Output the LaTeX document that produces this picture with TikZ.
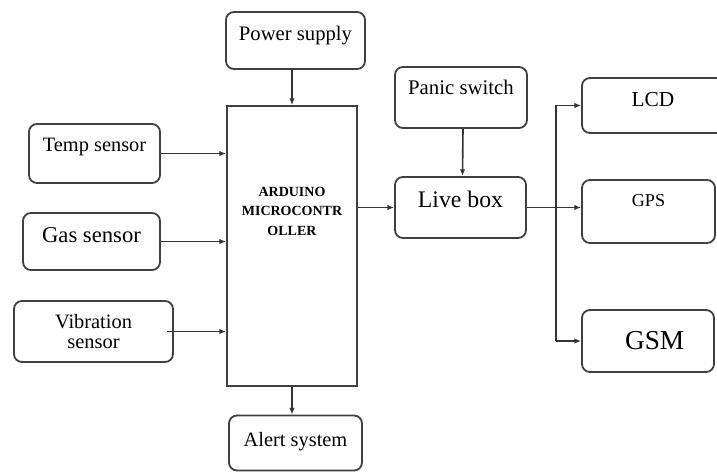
\documentclass[tikz,border=0pt]{standalone}
\usepackage{fontspec}
\setmainfont{Liberation Serif}
\usetikzlibrary{arrows.meta}

\begin{document}
\begin{tikzpicture}[x=0.75pt,y=-0.75pt]
\tikzset{blk/.style 2 args=
            {draw=black!75,line width=1.35pt,rounded corners=6pt,inner sep=0pt,
             minimum width=#1*0.75pt,minimum height=#2*0.75pt,align=center},
         arr/.style=
            {draw=black!80,line width=1.2pt,-{Latex[length=5pt,width=4pt]}},
         up/.style={text depth=#1}}
\clip (0,0) rectangle (717,473);
% inputs and the controller
\node[blk={139}{57},up=10.8pt,font=\fontsize{15.5}{18}\selectfont] (power) at (295.5,40.5) {Power supply};
\node[blk={130}{280},rounded corners=0pt,up=52pt,
      font=\fontsize{10.5}{14.6}\selectfont\bfseries] (ard) at (292,246) {ARDUINO\\MICROCONTR\\OLLER};
\node[blk={131}{59},up=13pt,font=\fontsize{15.3}{18}\selectfont] (temp) at (94.5,153.5) {Temp sensor};
\node[blk={137}{57},up=10pt,font=\fontsize{17}{20}\selectfont] (gas) at (91.5,241.5) {Gas sensor};
\node[blk={159}{61},font=\fontsize{15.3}{15}\selectfont] (vib) at (93.5,331.5) {Vibration\\sensor};
\node[blk={133}{55},up=5pt,font=\fontsize{15.3}{18}\selectfont] (alert) at (295.5,443) {Alert system};
% live box and outputs
\node[blk={132}{61},up=15pt,font=\fontsize{15.6}{18}\selectfont] (panic) at (461,97.5) {Panic switch};
\node[blk={131}{61},up=12pt,font=\fontsize{17.8}{20}\selectfont] (live) at (460.5,207.5) {Live box};
\node[blk={142}{55},up=8.5pt,font=\fontsize{16}{18}\selectfont] (lcd) at (653,105.5) {LCD};
\node[blk={133}{63},up=17pt,font=\fontsize{13.6}{16}\selectfont] (gps) at (648.5,211.5) {GPS};
\node[blk={132}{62},font=\fontsize{20.5}{24}\selectfont] (gsm) at (648,341) {\hspace{10pt}GSM};
\coordinate (bus) at (556,208);

\draw[arr] (ard.north |- power.south) -- (ard.north);
\draw[arr] (temp.east) -- (ard.west |- temp.east);
\draw[arr] (gas.east) -- (ard.west |- gas.east);
\draw[arr] ([xshift=-5.25pt]vib.east) -- (ard.west |- vib.east);
\draw[arr] (ard.south) -- (alert.north -| ard.south);
\draw[arr] (ard.east |- live.west) -- (live.west);
\draw[arr] ([xshift=1.5pt]panic.south) -- ([xshift=1.5pt]live.north);
\draw[arr] (live.east) -- (live.east -| gps.west);
\draw[arr] (bus |- gsm.west) |- (lcd.west);
\draw[arr] (bus |- gsm.west) -- (gsm.west);
\end{tikzpicture}
\end{document}
